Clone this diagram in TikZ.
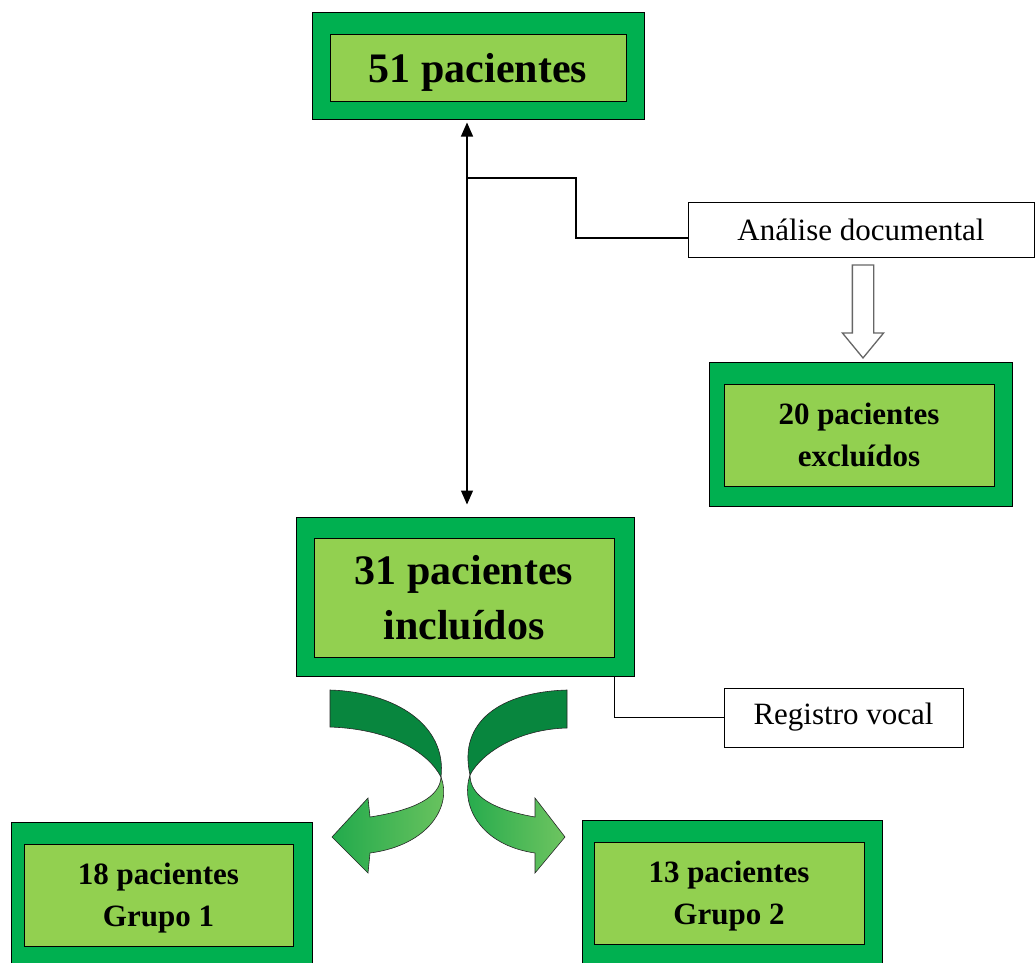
\documentclass[tikz,border=0pt]{standalone}
\usepackage{fontspec}
\setmainfont{Liberation Serif}
\definecolor{OuterGreen}{RGB}{0,176,80}
\definecolor{InnerGreen}{RGB}{146,208,80}
\definecolor{RibbonDark}{RGB}{8,134,62}
\definecolor{RibbonMid}{RGB}{34,170,76}
\definecolor{RibbonLight}{RGB}{110,196,96}
\usetikzlibrary{arrows.meta, positioning, shapes.arrows, calc}

\begin{document}
\begin{tikzpicture}[x=1pt, y=-1pt,
    every node/.style={align=center, inner sep=0pt},
    outerbox/.style={draw, line width=1pt, fill=OuterGreen},
    innerbox/.style={draw, line width=1pt, fill=InnerGreen, text depth=0pt, font=\bfseries\fontsize{31}{42}\selectfont},
    bigtext/.style={font=\bfseries\fontsize{42}{55}\selectfont},
    notebox/.style={draw, line width=1pt, fill=white, font=\fontsize{31}{36}\selectfont},
    hollowarrow/.style={single arrow, draw=black!60, line width=1.3pt, fill=white, inner sep=10pt,
        single arrow head extend=10pt, single arrow tip angle=79, shape border rotate=270},
    ribbon/.style={draw=black!85, line width=0.6pt}
]
\clip (0,0) rectangle (1036,962);
% Boxes
\node[outerbox, minimum width=332pt, minimum height=107pt] (total) at (478,65.5) {};
\node[innerbox, bigtext, minimum width=296pt, minimum height=67pt] (totalin) at (478,67.5) {51 pacientes};
\node[outerbox, minimum width=338pt, minimum height=159pt] (incl) at (465,596.5) {};
\node[innerbox, bigtext, minimum width=300pt, minimum height=119pt] (inclin) at (464,597.5) {31 pacientes\\inclu\'idos};
\node[outerbox, minimum width=303pt, minimum height=144pt] (excl) at (860.5,434) {};
\node[innerbox, minimum width=270pt, minimum height=102pt] (exclin) at (859,435) {20 pacientes\\exclu\'idos};
\node[outerbox, minimum width=301pt, minimum height=144pt] (grupoa) at (161.5,894) {};
\node[innerbox, minimum width=269pt, minimum height=102pt] (grupoain) at (158.5,895) {18 pacientes\\Grupo 1};
\node[outerbox, minimum width=300pt, minimum height=144pt] (grupob) at (732,892) {};
\node[innerbox, minimum width=270pt, minimum height=102pt] (grupobin) at (729,893) {13 pacientes\\Grupo 2};
% Notes
\node[notebox, minimum width=346pt, minimum height=55pt] (analise) at (861,229.5) {An\'alise documental};
\node[notebox, minimum width=239pt, minimum height=59pt] (registro) at (843.5,717.5) {Registro vocal};
% Connectors
\coordinate (axis) at (467,0);
\coordinate (tap) at (467,178);
\draw[{Triangle[length=14pt,width=12pt]}-{Triangle[length=14pt,width=12pt]}, line width=1.2pt,
    shorten <=3pt, shorten >=12pt] (total.south -| axis) -- (incl.north -| axis);
\draw[line width=1.2pt] (tap) -- ++(109,0) |- ([yshift=-8.5pt]analise.west);
\draw[line width=1.2pt] (inclin.east |- incl.south) |- (registro.west);
\node[hollowarrow, minimum height=93pt, minimum width=41pt] (seta) at (863,305) {};
% Curved arrows
\draw[ribbon, left color=RibbonMid, right color=RibbonLight] (441,777) .. controls (452,805) and (430,845) .. (370,853)
    -- (368,873) -- (332,837) -- (368,798) -- (370,817) .. controls (415,810) and (440,797) .. (441,777) -- cycle;
\draw[ribbon, fill=RibbonDark] (330,690) .. controls (395,692) and (447,725) .. (441,777)
    .. controls (428,752) and (390,729) .. (330,727) -- cycle;
\draw[ribbon, left color=RibbonMid, right color=RibbonLight] (470,775) .. controls (460,805) and (480,845) .. (535,853)
    -- (535,873) -- (565,837) -- (535,798) -- (535,817) .. controls (495,810) and (470,797) .. (470,775) -- cycle;
\draw[ribbon, fill=RibbonDark] (567,690) .. controls (500,692) and (458,722) .. (470,775)
    .. controls (482,752) and (520,729) .. (567,728) -- cycle;
\end{tikzpicture}
\end{document}
